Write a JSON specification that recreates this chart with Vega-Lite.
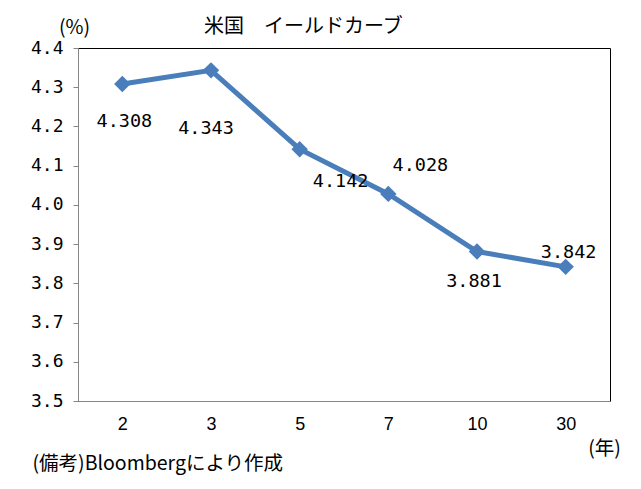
{
  "$schema": "https://vega.github.io/schema/vega-lite/v6.json",
  "width": 532,
  "height": 353,
  "autosize": "none",
  "padding": {"left": 78, "top": 48, "right": 31, "bottom": 88},
  "background": "white",
  "title": {
    "text": "米国　イールドカーブ",
    "anchor": "start",
    "frame": "group",
    "dx": 126,
    "dy": 30,
    "offset": 10,
    "font": "Noto Sans CJK JP",
    "fontSize": 20,
    "fontWeight": "normal",
    "color": "black"
  },
  "config": {
    "view": {"stroke": "black", "strokeWidth": 1},
    "axis": {"grid": false}
  },
  "data": {
    "values": [
      {"t": "2", "v": 4.308},
      {"t": "3", "v": 4.343},
      {"t": "5", "v": 4.142},
      {"t": "7", "v": 4.028},
      {"t": "10", "v": 3.881},
      {"t": "30", "v": 3.842}
    ]
  },
  "encoding": {
    "x": {
      "field": "t",
      "type": "ordinal",
      "sort": null,
      "scale": {"type": "point", "padding": 0.5},
      "axis": {
        "labelAngle": 0,
        "ticks": false,
        "domainColor": "#868686",
        "labelPadding": 14,
        "labelFont": "Liberation Sans",
        "labelFontSize": 18,
        "labelColor": "black",
        "title": "(備考)Bloombergにより作成",
        "titleFont": "Noto Sans CJK JP",
        "titleFontSize": 19.5,
        "titleFontWeight": "normal",
        "titleColor": "black",
        "titleAlign": "left",
        "titleBaseline": "middle",
        "titleX": -46,
        "titleY": 62
      }
    },
    "y": {
      "field": "v",
      "type": "quantitative",
      "scale": {"domain": [3.5, 4.4], "nice": false, "zero": false},
      "axis": null
    }
  },
  "layer": [
    {
      "mark": {"type": "line", "color": "#4A7EBB", "strokeWidth": 5},
      "encoding": {
        "y": {
          "field": "v",
          "type": "quantitative",
          "scale": {"domain": [3.5, 4.4], "nice": false, "zero": false},
          "axis": {
            "values": [3.5, 3.6, 3.7, 3.8, 3.9, 4.0, 4.1, 4.2, 4.3, 4.4],
            "format": ".1f",
            "domainColor": "#868686",
            "tickColor": "#868686",
            "tickSize": 5,
            "labelPadding": 10,
            "labelFont": "DejaVu Sans Mono",
            "labelFontSize": 18,
            "labelColor": "black",
            "title": "(%)",
            "titleAngle": 0,
            "titleX": -4,
            "titleY": -21,
            "titleAlign": "center",
            "titleBaseline": "middle",
            "titleFont": "Noto Sans CJK JP",
            "titleFontSize": 19.5,
            "titleFontWeight": "normal",
            "titleColor": "black"
          }
        }
      }
    },
    {
      "mark": {"type": "point", "shape": "diamond", "filled": true, "size": 270, "color": "#4A7EBB", "opacity": 1},
      "encoding": {
        "y": {
          "field": "v",
          "type": "quantitative",
          "scale": {"domain": [3.5, 4.4], "nice": false, "zero": false},
          "axis": {
            "orient": "right",
            "labels": false,
            "ticks": false,
            "domain": false,
            "title": "(年)",
            "titleAngle": 0,
            "titleX": -6,
            "titleY": 400,
            "titleAlign": "center",
            "titleBaseline": "middle",
            "titleFont": "Noto Sans CJK JP",
            "titleFontSize": 19.5,
            "titleFontWeight": "normal",
            "titleColor": "black"
          }
        }
      }
    },
    {
      "transform": [{"filter": "datum.t == '2'"}],
      "mark": {"type": "text", "font": "DejaVu Sans Mono", "fontSize": 18.5, "color": "black", "baseline": "middle", "dx": 2, "dy": 37},
      "encoding": {"text": {"field": "v", "type": "quantitative", "format": ".3f"}}
    },
    {
      "transform": [{"filter": "datum.t == '3'"}],
      "mark": {"type": "text", "font": "DejaVu Sans Mono", "fontSize": 18.5, "color": "black", "baseline": "middle", "dx": -5, "dy": 58},
      "encoding": {"text": {"field": "v", "type": "quantitative", "format": ".3f"}}
    },
    {
      "transform": [{"filter": "datum.t == '5'"}],
      "mark": {"type": "text", "font": "DejaVu Sans Mono", "fontSize": 18.5, "color": "black", "baseline": "middle", "dx": 41, "dy": 32},
      "encoding": {"text": {"field": "v", "type": "quantitative", "format": ".3f"}}
    },
    {
      "transform": [{"filter": "datum.t == '7'"}],
      "mark": {"type": "text", "font": "DejaVu Sans Mono", "fontSize": 18.5, "color": "black", "baseline": "middle", "dx": 32, "dy": -29},
      "encoding": {"text": {"field": "v", "type": "quantitative", "format": ".3f"}}
    },
    {
      "transform": [{"filter": "datum.t == '10'"}],
      "mark": {"type": "text", "font": "DejaVu Sans Mono", "fontSize": 18.5, "color": "black", "baseline": "middle", "dx": -3, "dy": 29},
      "encoding": {"text": {"field": "v", "type": "quantitative", "format": ".3f"}}
    },
    {
      "transform": [{"filter": "datum.t == '30'"}],
      "mark": {"type": "text", "font": "DejaVu Sans Mono", "fontSize": 18.5, "color": "black", "baseline": "middle", "dx": 3, "dy": -15},
      "encoding": {"text": {"field": "v", "type": "quantitative", "format": ".3f"}}
    }
  ],
  "resolve": {"scale": {"y": "independent"}}
}
